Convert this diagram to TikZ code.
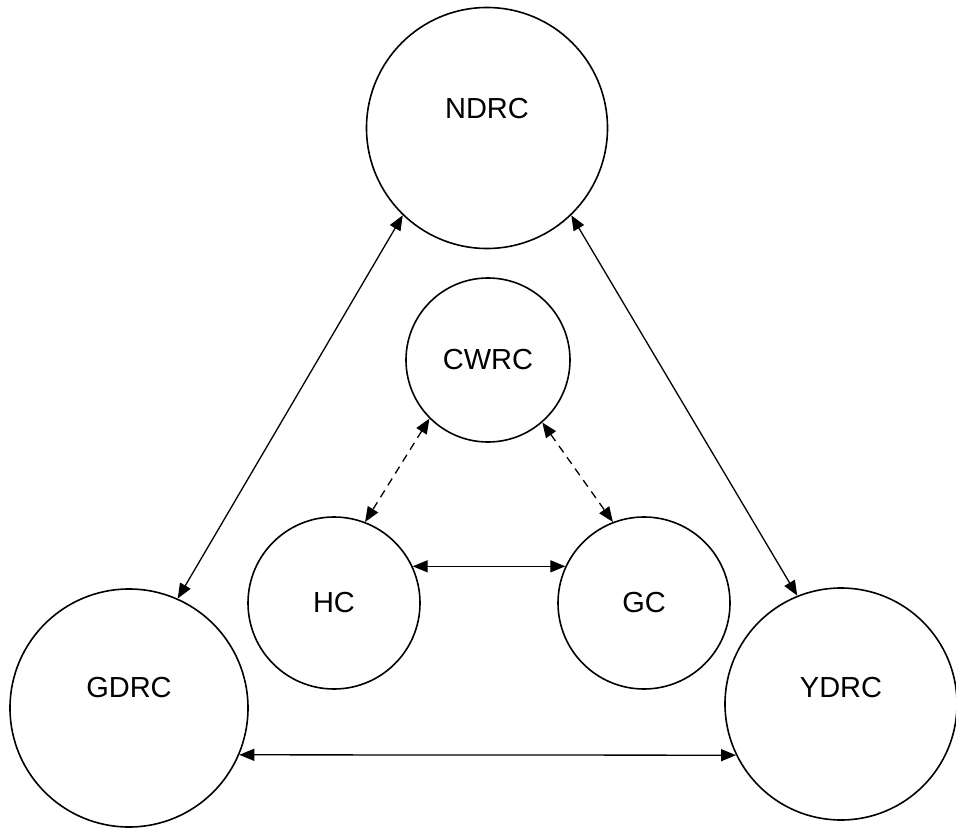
\documentclass[tikz,border=0pt]{standalone}
\usepackage{fontspec}
\setmainfont{Liberation Sans}
\usepackage{tikz}
\usetikzlibrary{arrows.meta}

\begin{document}
\begin{tikzpicture}[
  x=1pt, y=-1pt,
  centre/.style={circle, draw=black, line width=1.6pt, inner sep=0pt},
  arrow/.style={{Triangle[length=15pt,width=12pt]}-{Triangle[length=15pt,width=12pt]}, line width=1.3pt},
  dasharrow/.style={arrow, dash pattern=on 8pt off 6pt},
  lbl/.style={font=\fontsize{29}{32}\selectfont}
]
\useasboundingbox (0,0) rectangle (956,829);

\node[centre, minimum size=241pt, label={[lbl, yshift=19pt]center:NDRC}] (ndrc) at (487,128) {};
\node[centre, minimum size=164pt, label={[lbl]center:CWRC}] (cwrc) at (488,360) {};
\node[centre, minimum size=172pt, label={[lbl]center:HC}]   (hc)   at (334,603) {};
\node[centre, minimum size=172pt, label={[lbl]center:GC}]   (gc)   at (644,603) {};
\node[centre, minimum size=238pt, label={[lbl, yshift=20pt]center:GDRC}] (gdrc) at (129,708) {};
\node[centre, minimum size=232pt, label={[lbl, yshift=16pt]center:YDRC}] (ydrc) at (841,704) {};

\draw[arrow] (ndrc.226) -- (gdrc.66);
\draw[arrow] (ndrc.314) -- (ydrc.112);
\draw[arrow] (gdrc.337) -- (ydrc.206);
\draw[arrow] (hc.25) -- (gc.155);
\draw[dasharrow] (cwrc.225) -- (hc.69);
\draw[dasharrow] (cwrc.311) -- (gc.111);
\end{tikzpicture}
\end{document}
